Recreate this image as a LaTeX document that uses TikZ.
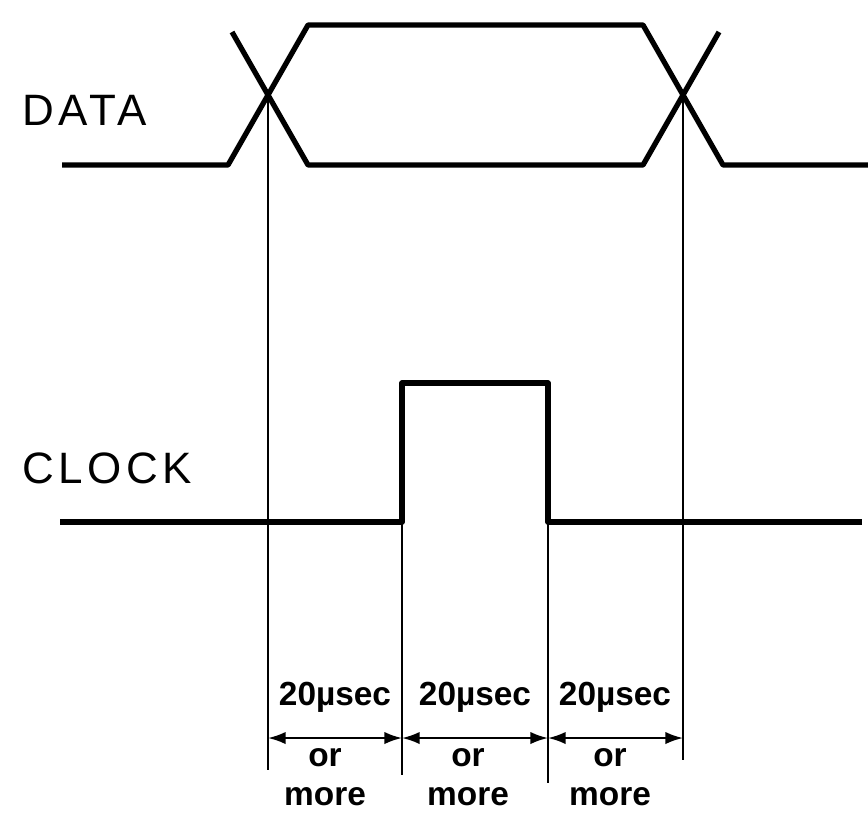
\documentclass[tikz,border=0pt]{standalone}
\usepackage{fontspec}
\setmainfont{Liberation Sans}
\usetikzlibrary{arrows.meta}

\tikzset{
  signal/.style={line width=1.5pt, line join=round},
  guide/.style={line width=0.6pt},
  span/.style={line width=0.6pt, {Latex[length=5pt,width=3.5pt]}-{Latex[length=5pt,width=3.5pt]}},
  siglabel/.style={font=\fontsize{12.5}{14}\selectfont\addfontfeature{LetterSpace=10}, anchor=west, inner sep=0pt},
  timelabel/.style={font=\fontsize{9.5}{12}\selectfont\bfseries},
  notelabel/.style={font=\fontsize{9.5}{11}\selectfont\bfseries, align=center}
}

\begin{document}
\begin{tikzpicture}[x=0.01cm, y=-0.01cm]
  \useasboundingbox (0,0) rectangle (868,827);

  % Signal names
  \node[siglabel] (data) at (22,110) {DATA};
  \node[siglabel] (clock) at (22,468) {CLOCK};

  % DATA waveform
  \coordinate (xa) at (268,95);
  \coordinate (xb) at (683,95);
  \draw[signal] (62,165) -- (228,165) -- (308,25) -- (643,25) -- (723,165) -- (868,165);
  \draw[signal] (232,32) -- (308,165) -- (643,165) -- (719,32);

  % CLOCK waveform
  \coordinate (rise) at (402,522);
  \coordinate (fall) at (548,522);
  \draw[signal] (60,522) -- (rise) -- (402,383) -- (548,383) -- (fall) -- (862,522);

  % Guide lines
  \coordinate (ga) at (268,770);
  \coordinate (gb) at (402,775);
  \coordinate (gc) at (548,783);
  \coordinate (gd) at (683,760);
  \draw[guide] (xa) -- (ga);
  \draw[guide] (rise) -- (gb);
  \draw[guide] (fall) -- (gc);
  \draw[guide] (xb) -- (gd);

  % Timing spans
  \draw[span] (268,738) -- (402,738);
  \draw[span] (402,738) -- (548,738);
  \draw[span] (548,738) -- (683,738);

  \node[timelabel] (t1) at (335,697) {20µsec};
  \node[timelabel] (t2) at (475,697) {20µsec};
  \node[timelabel] (t3) at (615,697) {20µsec};

  \node[notelabel] (m1) at (325,777) {or\\more};
  \node[notelabel] (m2) at (468,777) {or\\more};
  \node[notelabel] (m3) at (610,777) {or\\more};
\end{tikzpicture}
\end{document}
